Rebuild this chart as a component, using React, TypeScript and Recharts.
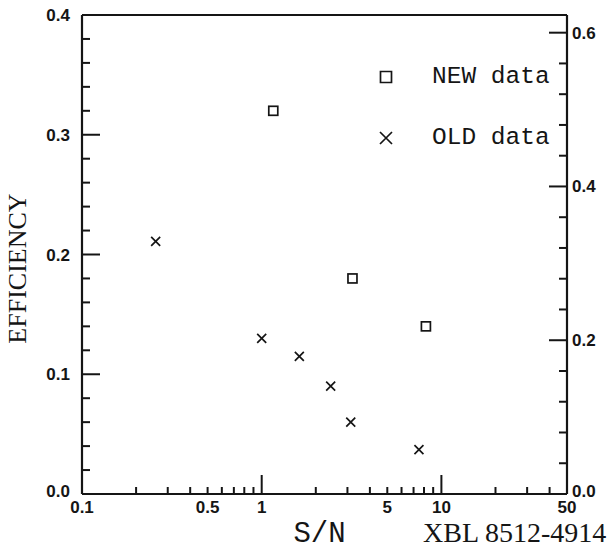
import { Label, Legend, Scatter, ScatterChart, XAxis, YAxis } from 'recharts';

// S/N vs efficiency, two measurement sets
const newSn = [1.16, 3.2, 8.2];
const newEff = [0.32, 0.18, 0.14];
const oldSn = [0.257, 1.0, 1.62, 2.42, 3.13, 7.5];
const oldEff = [0.211, 0.13, 0.115, 0.09, 0.06, 0.037];

const xLabels = [0.1, 0.5, 1, 5, 10, 50];
const xLongTicks = [1, 10];
const xTicks = [
  0.1, 0.2, 0.3, 0.4, 0.5, 0.6, 0.7, 0.8, 0.9, 1, 2, 3, 4, 5, 6, 7, 8, 9, 10, 20, 30, 40, 50,
];
const leftLabels = [0, 0.1, 0.2, 0.3, 0.4];
const leftTicks = [
  0, 0.02, 0.04, 0.06, 0.08, 0.1, 0.12, 0.14, 0.16, 0.18, 0.2, 0.22, 0.24, 0.26, 0.28, 0.3, 0.32,
  0.34, 0.36, 0.38, 0.4,
];
const rightLabels = [0, 0.2, 0.4, 0.6];
const rightTicks = [
  0, 0.04, 0.08, 0.12, 0.16, 0.2, 0.24, 0.28, 0.32, 0.36, 0.4, 0.44, 0.48, 0.52, 0.56, 0.6,
];

const newData = newSn.map((sn, i) => ({ sn, eff: newEff[i] }));
const oldData = oldSn.map((sn, i) => ({ sn, eff: oldEff[i] }));

const INK = '#151515';
const TICK_W = 2;
const SANS = '"Liberation Sans", Arial, sans-serif';
const MONO = '"Liberation Mono", "Courier New", monospace';
const SERIF = '"Liberation Serif", "Times New Roman", serif';

function near(list: number[], v: number) {
  return list.some((t) => Math.abs(t - v) < 1e-9);
}

function BottomTick(props: any) {
  const { x, y, payload } = props;
  const v = payload.value;
  const len = near(xLongTicks, v) ? 19 : 7;
  return (
    <g>
      <path d={`M${x},${y}V${y - len}`} stroke={INK} strokeWidth={TICK_W} fill="none" />
      {near(xLabels, v) ? (
        <text x={x} y={y + 19} textAnchor="middle" fontFamily={SANS} fontWeight={700} fontSize={17} fill={INK}>
          {String(v)}
        </text>
      ) : null}
    </g>
  );
}

function TopTick(props: any) {
  const { x, y, payload } = props;
  const len = near(xLongTicks, payload.value) ? 18 : 7;
  return (
    <g>
      <path d={`M${x},${y}V${y + len}`} stroke={INK} strokeWidth={TICK_W} fill="none" />
    </g>
  );
}

function LeftTick(props: any) {
  const { x, y, payload } = props;
  const v = payload.value;
  const major = near(leftLabels, v);
  return (
    <g>
      <path d={`M${x},${y}H${x + (major ? 18 : 8)}`} stroke={INK} strokeWidth={TICK_W} fill="none" />
      {major ? (
        <text x={x - 12} y={v === 0 ? y + 3 : y + 6} textAnchor="end" fontFamily={SANS} fontWeight={700} fontSize={17} fill={INK}>
          {v.toFixed(1)}
        </text>
      ) : null}
    </g>
  );
}

function RightTick(props: any) {
  const { x, y, payload } = props;
  const v = payload.value;
  const major = near(rightLabels, v);
  return (
    <g>
      <path d={`M${x},${y}H${x - (major ? 18 : 8)}`} stroke={INK} strokeWidth={TICK_W} fill="none" />
      {major ? (
        <text x={x + 5} y={v === 0 ? y + 3 : y + 6} textAnchor="start" fontFamily={SANS} fontWeight={700} fontSize={17} fill={INK}>
          {v.toFixed(1)}
        </text>
      ) : null}
    </g>
  );
}

function SquareMark(props: any) {
  const { cx, cy } = props;
  return <rect x={cx - 4.5} y={cy - 4.5} width={9} height={9} fill="none" stroke={INK} strokeWidth={1.7} />;
}

function CrossMark(props: any) {
  const { cx, cy } = props;
  return (
    <path
      d={`M${cx - 4.5},${cy - 4.5}L${cx + 4.5},${cy + 4.5}M${cx - 4.5},${cy + 4.5}L${cx + 4.5},${cy - 4.5}`}
      stroke={INK}
      strokeWidth={1.7}
      fill="none"
    />
  );
}

function LegendBox() {
  const rows = [
    { label: 'NEW data', d: 'M3.5,3.5H14.5V14.5H3.5Z' },
    { label: 'OLD data', d: 'M3,3L15,15M3,15L15,3' },
  ];
  return (
    <div>
      {rows.map((r) => (
        <div key={r.label} style={{ display: 'flex', alignItems: 'center', height: 61 }}>
          <svg width={18} height={18}>
            <path d={r.d} fill="none" stroke={INK} strokeWidth={1.7} />
          </svg>
          <span style={{ marginLeft: 37, fontFamily: MONO, fontSize: 24.5, color: INK, lineHeight: '61px' }}>
            {r.label}
          </span>
        </div>
      ))}
    </div>
  );
}

export default function App() {
  return (
    <div style={{ position: 'absolute', left: 0, top: 0, width: 615, height: 560 }}>
      <ScatterChart width={615} height={560} margin={{ top: 0, right: 0, bottom: 0, left: 0 }}>
        <XAxis
          xAxisId="bottom"
          dataKey="sn"
          type="number"
          scale="log"
          domain={[0.1, 50]}
          ticks={xTicks}
          interval={0}
          allowDataOverflow
          height={66}
          tickSize={0}
          tickMargin={0}
          tickLine={false}
          axisLine={{ stroke: INK, strokeWidth: 2.2 }}
          tick={(p: any) => <BottomTick {...p} />}
        >
          <Label
            content={(p: any) => (
              <text x={p.viewBox.x + p.viewBox.width / 2 - 5} y={p.viewBox.y + 48} textAnchor="middle" fontFamily={MONO} fontSize={29} fill={INK}>
                S/N
              </text>
            )}
          />
        </XAxis>
        <XAxis
          xAxisId="top"
          orientation="top"
          type="number"
          scale="log"
          domain={[0.1, 50]}
          ticks={xTicks}
          interval={0}
          allowDataOverflow
          height={15}
          tickSize={0}
          tickMargin={0}
          tickLine={false}
          axisLine={{ stroke: INK, strokeWidth: 2.2 }}
          tick={(p: any) => <TopTick {...p} />}
        />
        <YAxis
          yAxisId="left"
          dataKey="eff"
          type="number"
          domain={[0, 0.4]}
          ticks={leftTicks}
          interval={0}
          allowDataOverflow
          width={82}
          tickSize={0}
          tickMargin={0}
          tickLine={false}
          axisLine={{ stroke: INK, strokeWidth: 2.2 }}
          tick={(p: any) => <LeftTick {...p} />}
        >
          <Label
            content={(p: any) => {
              const cx = p.viewBox.x + 26;
              const cy = p.viewBox.y + p.viewBox.height / 2 + 14;
              return (
                <text x={cx} y={cy} transform={`rotate(-90 ${cx} ${cy})`} textAnchor="middle" fontFamily={SERIF} fontSize={26} fill={INK}>
                  EFFICIENCY
                </text>
              );
            }}
          />
        </YAxis>
        <YAxis
          yAxisId="right"
          orientation="right"
          type="number"
          domain={[0, 0.623]}
          ticks={rightTicks}
          interval={0}
          allowDataOverflow
          width={48}
          tickSize={0}
          tickMargin={0}
          tickLine={false}
          axisLine={{ stroke: INK, strokeWidth: 2.2 }}
          tick={(p: any) => <RightTick {...p} />}
        >
          <Label
            content={(p: any) => (
              <text x={p.viewBox.x - 144} y={p.viewBox.y + p.viewBox.height + 48} textAnchor="start" fontFamily={SERIF} fontSize={28} fill={INK}>
                XBL 8512-4914
              </text>
            )}
          />
        </YAxis>
        <Legend
          layout="vertical"
          align="center"
          verticalAlign="middle"
          content={() => <LegendBox />}
          wrapperStyle={{ left: 377, top: 46, width: 220 }}
        />
        <Scatter
          name="NEW data"
          data={newData}
          xAxisId="bottom"
          yAxisId="left"
          shape={(p: any) => <SquareMark {...p} />}
          isAnimationActive={false}
        />
        <Scatter
          name="OLD data"
          data={oldData}
          xAxisId="bottom"
          yAxisId="left"
          shape={(p: any) => <CrossMark {...p} />}
          isAnimationActive={false}
        />
      </ScatterChart>
    </div>
  );
}
